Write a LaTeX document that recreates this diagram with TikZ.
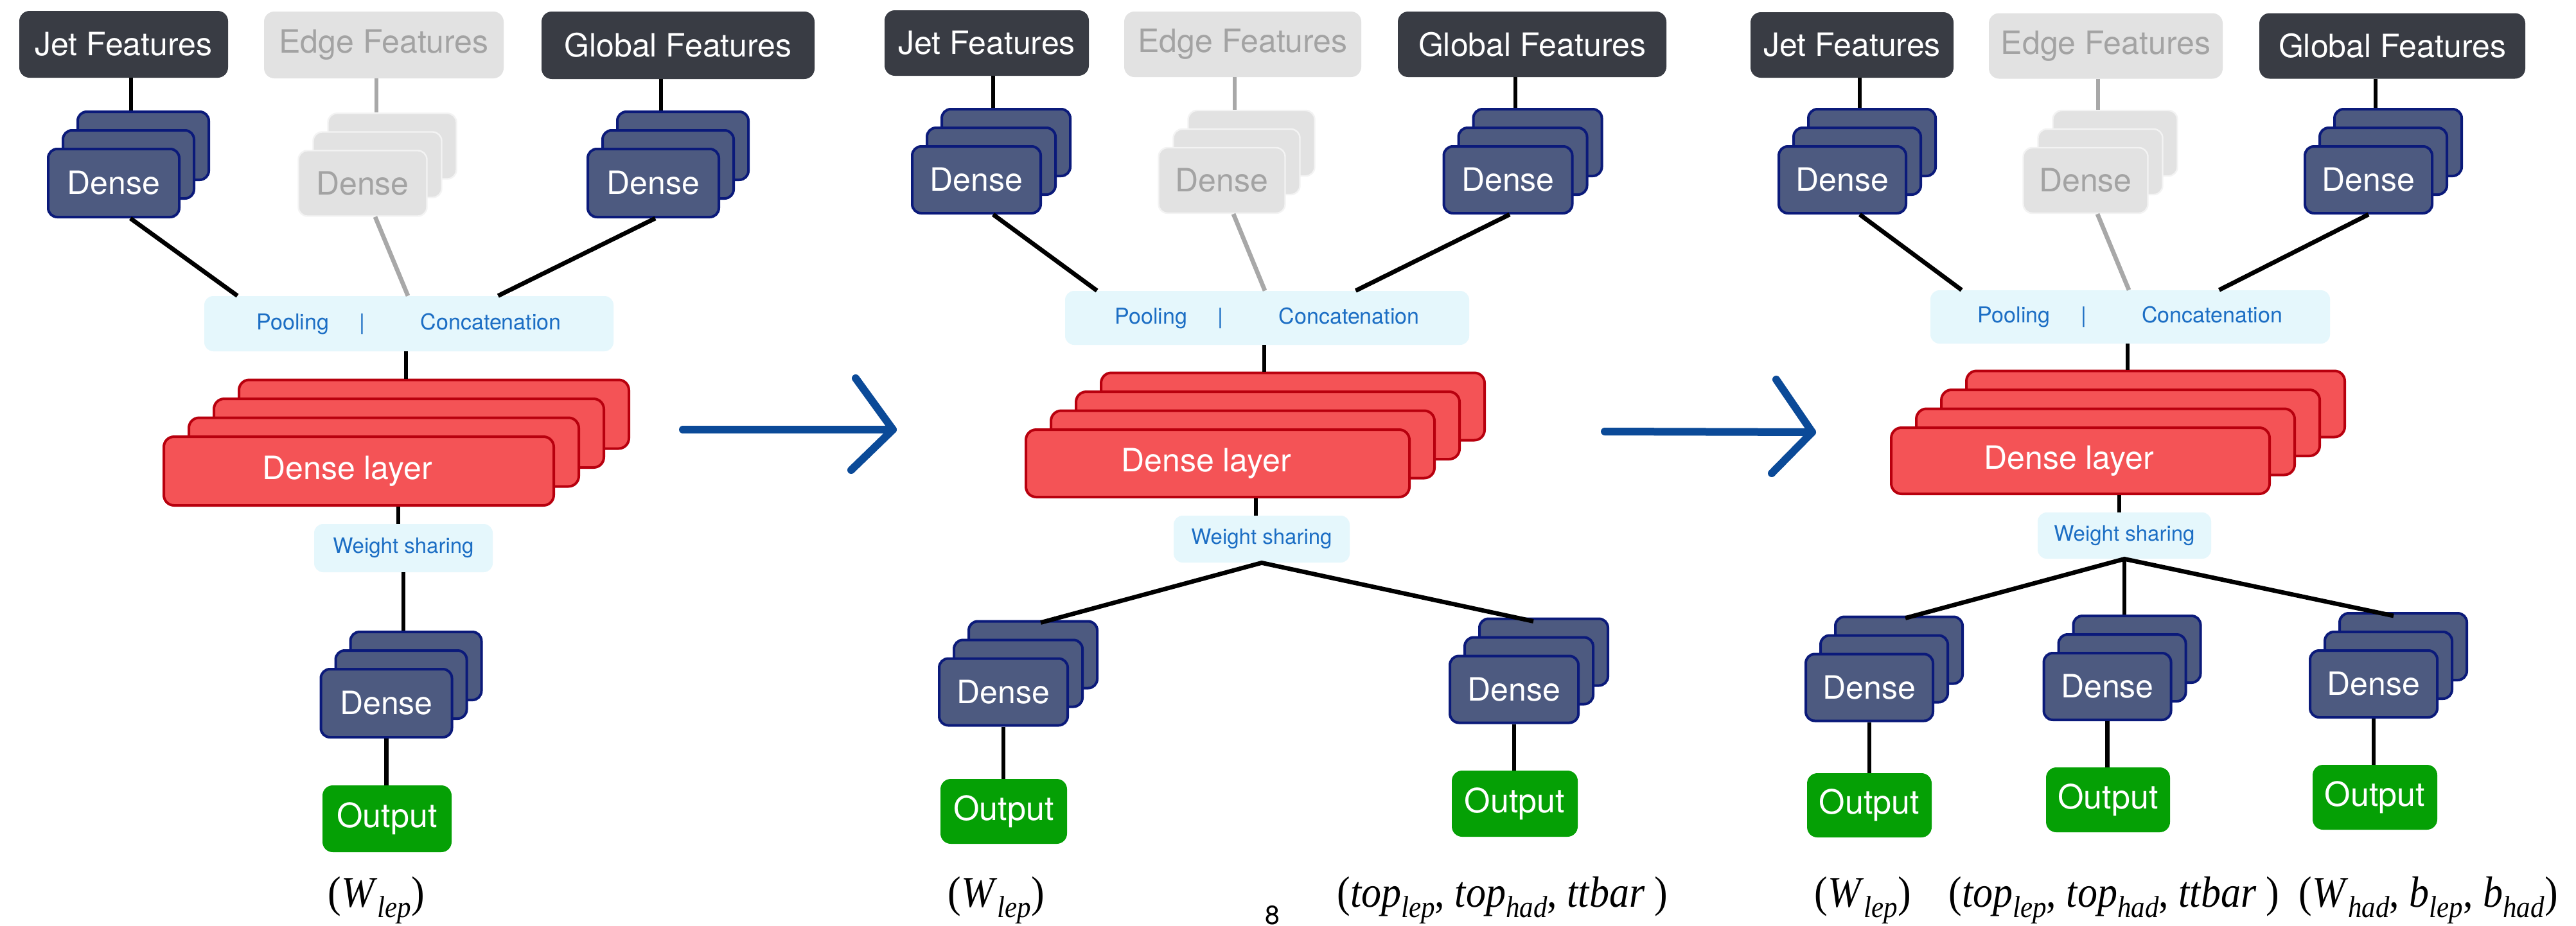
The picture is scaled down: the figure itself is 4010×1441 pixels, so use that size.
\documentclass[tikz,border=0pt]{standalone}
\usepackage{fontspec}
\setmainfont{TeX Gyre Heros}
\newfontfamily\lblfont{Liberation Serif}
\usetikzlibrary{calc}
\definecolor{featdark}{HTML}{393C44}
\definecolor{featgray}{HTML}{E2E2E2}
\definecolor{grtext}{HTML}{A3A3A3}
\definecolor{densefill}{HTML}{4D5A80}
\definecolor{denseedge}{HTML}{0B1A7A}
\definecolor{redfill}{HTML}{F45356}
\definecolor{rededge}{HTML}{B8000E}
\definecolor{outgreen}{HTML}{05A005}
\definecolor{poolfill}{HTML}{E5F7FC}
\definecolor{pooltext}{HTML}{1C6EC4}
\definecolor{arrowblue}{HTML}{0B4A98}
\definecolor{linegray}{HTML}{A8A8A8}
\newcommand\lsub[1]{\raisebox{-0.24em}{\fontsize{21.5}{24}\selectfont\textit{#1}}}
\newcommand\mkstack[5]{%
  \node[#4] (#1b) at ({#2+46},{#3-58}) {};
  \node[#4] (#1m) at ({#2+23},{#3-29}) {};
  \node[#4] (#1) at (#2,#3) {#5};}
\newcommand\mkred[4]{%
  \node[rbox,#4] (#1d) at ({#2+117},{#3-88.5}) {};
  \node[rbox,#4] (#1c) at ({#2+78},{#3-59}) {};
  \node[rbox,#4] (#1b) at ({#2+39},{#3-29.5}) {};
  \node[rbox,#4] (#1) at (#2,#3) {Dense layer\hspace*{18pt}};}
\tikzset{
  feat/.style={fill=featdark, text=white, rounded corners=8pt, inner sep=0pt,
    font=\fontsize{25}{30}\selectfont, minimum height=51pt},
  featg/.style={feat, fill=featgray, text=grtext},
  dbox/.style={fill=densefill, draw=denseedge, line width=2pt, rounded corners=7pt,
    minimum width=100pt, minimum height=52pt, inner sep=0pt, text=white,
    font=\fontsize{25}{30}\selectfont},
  dboxg/.style={fill=featgray, draw=white!60!featgray, line width=1.2pt, rounded corners=7pt,
    minimum width=98.5pt, minimum height=51pt, inner sep=0pt, text=grtext,
    font=\fontsize{25}{30}\selectfont},
  rbox/.style={fill=redfill, draw=rededge, line width=2pt, rounded corners=8pt,
    inner sep=0pt, text=white, font=\fontsize{25}{30}\selectfont},
  pbox/.style={fill=poolfill, rounded corners=7pt, inner sep=0pt, text=pooltext,
    font=\fontsize{17}{20}\selectfont},
  obox/.style={fill=outgreen, rounded corners=8pt, inner sep=0pt, text=white,
    font=\fontsize{26}{30}\selectfont},
  link/.style={line width=3.4pt, black},
  linkg/.style={line width=3.4pt, linegray},
  lbl/.style={font=\lblfont\fontsize{31}{36}\selectfont, inner sep=0pt, anchor=base},
  bigarrow/.style={line width=6pt, arrowblue, line cap=round, line join=round},
}
\begin{document}
\begin{tikzpicture}[x=0.5pt,y=-0.5pt]
\useasboundingbox[fill=white] (0,0) rectangle (4010,1441);

%================ Panel 1 ================
\node[feat, minimum width=162.5pt, minimum height=52pt] (jf1) at (192.5,69) {Jet Features};
\node[featg, minimum width=186.5pt, minimum height=52pt] (ef1) at (597.5,70) {Edge Features};
\node[feat, minimum width=212.5pt, minimum height=52.5pt] (gf1) at (1055.5,70.5) {Global Features};
\mkstack{jd1}{177}{285}{dbox,minimum width=102pt,minimum height=53pt}{Dense}
\mkstack{ed1}{564.5}{285.5}{dboxg,minimum width=100pt}{Dense}
\mkstack{gd1}{1017}{285}{dbox,minimum width=102pt,minimum height=53pt}{Dense}
\node[pbox, minimum width=318.5pt, minimum height=43pt] (pool1) at (636.5,504)
  {Pooling\hspace*{24pt}|\hspace*{43pt}Concatenation};
\mkred{rl1}{558.5}{733.5}{minimum width=303.5pt,minimum height=53.5pt}
\node[pbox, minimum width=139pt, minimum height=37.5pt, font=\fontsize{16.5}{20}\selectfont] (ws1) at (628,853.5) {Weight sharing};
\mkstack{bd1}{601.5}{1095}{dbox,minimum width=102pt,minimum height=53pt}{Dense}
\node[obox, minimum width=100.5pt, minimum height=52pt] (out1) at (602.5,1275) {Output};

\draw[link] ([xshift=5.75pt]jf1.south) -- ([xshift=5.75pt]jf1.south |- jd1b.north);
\draw[linkg] ([xshift=-5.75pt]ef1.south) -- ([xshift=-5.75pt]ef1.south |- ed1b.north);
\draw[link] ([xshift=-13.25pt]gf1.south) -- ([xshift=-13.25pt]gf1.south |- gd1b.north);
\draw[link] ([xshift=13pt]jd1.south) -- ([xshift=26pt]pool1.north west);
\draw[linkg] ([xshift=9.75pt]ed1.south) -- ([xshift=-0.75pt]pool1.north);
\draw[link] ([xshift=1.5pt]gd1.south) -- ([xshift=-90pt]pool1.north east);
\draw[link] ([xshift=-2.25pt]pool1.south) -- ([xshift=-2.25pt]pool1.south |- rl1d.north);
\draw[link] ([xshift=30.75pt]rl1.south) -- ([xshift=30.75pt]rl1.south |- ws1.north);
\draw[link] (ws1.south) -- (ws1.south |- bd1b.north);
\draw[link] (bd1.south) -- (bd1.south |- out1.north);

\node[lbl] (lab1) at (586,1412) {\scalebox{1}[1.1]{(\textit{W}\lsub{lep})}};

%================ Arrow 1 ================
\coordinate (a1s) at (1063,669);
\coordinate (a1t) at (1390,669);
\coordinate (a1u) at (1332,589);
\coordinate (a1d) at (1325,732);
\draw[bigarrow] (a1s) -- (a1t);
\draw[bigarrow] (a1u) -- (a1t) -- (a1d);

%================ Panel 2 ================
\node[feat, minimum width=159pt] (jf2) at (1536,67) {Jet Features};
\node[featg, minimum width=184.5pt] (ef2) at (1934.5,69) {Edge Features};
\node[feat, minimum width=209pt] (gf2) at (2385,69) {Global Features};
\mkstack{jd2}{1520}{280}{dbox}{Dense}
\mkstack{ed2}{1902}{281}{dboxg}{Dense}
\mkstack{gd2}{2347.5}{280}{dbox}{Dense}
\node[pbox, minimum width=314.5pt, minimum height=42pt] (pool2) at (1972.5,495)
  {Pooling\hspace*{24pt}|\hspace*{43pt}Concatenation};
\mkred{rl2}{1895.5}{721.5}{minimum width=298.5pt,minimum height=52.5pt}
\node[pbox, minimum width=137pt, minimum height=36.5pt, font=\fontsize{16.5}{20}\selectfont] (ws2) at (1964,839.5) {Weight sharing};
\mkstack{ld2}{1562}{1077.5}{dbox}{Dense}
\mkstack{rd2}{2357}{1073.5}{dbox}{Dense}
\node[obox, minimum width=98.5pt, minimum height=50.5pt] (lo2) at (1562.5,1263.5) {Output};
\node[obox, minimum width=98pt, minimum height=51.5pt] (ro2) at (2358,1251.5) {Output};

\draw[link] ([xshift=5pt]jf2.south) -- ([xshift=5pt]jf2.south |- jd2b.north);
\draw[linkg] ([xshift=-6.25pt]ef2.south) -- ([xshift=-6.25pt]ef2.south |- ed2b.north);
\draw[link] ([xshift=-13pt]gf2.south) -- ([xshift=-13pt]gf2.south |- gd2b.north);
\draw[link] ([xshift=13pt]jd2.south) -- ([xshift=25pt]pool2.north west);
\draw[linkg] ([xshift=9pt]ed2.south) -- ([xshift=-1.75pt]pool2.north);
\draw[link] ([xshift=1.25pt]gd2.south) -- ([xshift=-88.5pt]pool2.north east);
\draw[link] ([xshift=-2.25pt]pool2.south) -- ([xshift=-2.25pt]pool2.south |- rl2d.north);
\draw[link] ([xshift=29.75pt]rl2.south) -- ([xshift=29.75pt]rl2.south |- ws2.north);
\draw[link] ([xshift=6pt,yshift=-2pt]ld2b.north) -- (ws2.south) -- ([xshift=-8pt,yshift=-3pt]rd2b.north);
\draw[link] (ld2.south) -- (ld2.south |- lo2.north);
\draw[link] (rd2.south) -- (rd2.south |- ro2.north);

\node[lbl] (lab2a) at (1551,1412) {\scalebox{1}[1.1]{(\textit{W}\lsub{lep})}};
\node[lbl] (lab2b) at (2339,1412) {\scalebox{1}[1.1]{(\textit{top}\lsub{lep}, \textit{top}\lsub{had}, \textit{ttbar} )}};
\node[font=\fontsize{20.5}{24}\selectfont, anchor=north, inner sep=0pt] (pg) at (1981,1410) {8};

%================ Arrow 2 ================
\coordinate (a2s) at (2498,672);
\coordinate (a2t) at (2821,673);
\coordinate (a2u) at (2765,591);
\coordinate (a2d) at (2758,737);
\draw[bigarrow] (a2s) -- (a2t);
\draw[bigarrow] (a2u) -- (a2t) -- (a2d);

%================ Panel 3 ================
\node[feat, minimum width=158pt] (jf3) at (2883,70) {Jet Features};
\node[featg, minimum width=182pt] (ef3) at (3278,71.5) {Edge Features};
\node[feat, minimum width=207pt] (gf3) at (3724,71.5) {Global Features};
\mkstack{jd3}{2868}{280}{dbox,minimum width=99pt}{Dense}
\mkstack{ed3}{3246.5}{281}{dboxg,minimum width=97pt}{Dense}
\mkstack{gd3}{3687}{280}{dbox,minimum width=99pt}{Dense}
\node[pbox, minimum width=311pt, minimum height=41.5pt] (pool3) at (3316,493.5)
  {Pooling\hspace*{24pt}|\hspace*{43pt}Concatenation};
\mkred{rl3}{3238.5}{717.5}{minimum width=294.5pt,minimum height=51.5pt}
\node[pbox, minimum width=135pt, minimum height=36pt, font=\fontsize{16.5}{20}\selectfont] (ws3) at (3307,834) {Weight sharing};
\mkstack{ld3}{2910}{1070.5}{dbox,minimum width=99pt}{Dense}
\mkstack{md3}{3280.5}{1069}{dbox,minimum width=99pt}{Dense}
\mkstack{rd3}{3695}{1065}{dbox,minimum width=99pt}{Dense}
\node[obox, minimum width=97pt, minimum height=50pt] (lo3) at (2910,1254) {Output};
\node[obox, minimum width=96.5pt, minimum height=50.5pt] (mo3) at (3281.5,1245.5) {Output};
\node[obox, minimum width=97pt, minimum height=50.5pt] (ro3) at (3697,1241.5) {Output};

\draw[link] ([xshift=6pt]jf3.south) -- ([xshift=6pt]jf3.south |- jd3b.north);
\draw[linkg] ([xshift=-6pt]ef3.south) -- ([xshift=-6pt]ef3.south |- ed3b.north);
\draw[link] ([xshift=-13pt]gf3.south) -- ([xshift=-13pt]gf3.south |- gd3b.north);
\draw[link] ([xshift=13.5pt]jd3.south) -- ([xshift=24.5pt]pool3.north west);
\draw[linkg] ([xshift=9.25pt]ed3.south) -- ([xshift=-1pt]pool3.north);
\draw[link] (gd3.south) -- ([xshift=-86.5pt]pool3.north east);
\draw[link] ([xshift=-2pt]pool3.south) -- ([xshift=-2pt]pool3.south |- rl3d.north);
\draw[link] ([xshift=30.25pt]rl3.south) -- ([xshift=30.25pt]rl3.south |- ws3.north);
\draw[link] ([xshift=5pt,yshift=-2pt]ld3b.north) -- (ws3.south) -- ([xshift=-7.5pt,yshift=-3pt]rd3b.north);
\draw[link] (ws3.south) -- (ws3.south |- md3b.north);
\draw[link] (ld3.south) -- (ld3.south |- lo3.north);
\draw[link] (md3.south) -- (md3.south |- mo3.north);
\draw[link] (rd3.south) -- (rd3.south |- ro3.north);

\node[lbl] (lab3a) at (2900,1412) {\scalebox{1}[1.1]{(\textit{W}\lsub{lep})}};
\node[lbl] (lab3b) at (3291,1412) {\scalebox{1}[1.1]{(\textit{top}\lsub{lep}, \textit{top}\lsub{had}, \textit{ttbar} )}};
\node[lbl] (lab3c) at (3780,1412) {\scalebox{1}[1.1]{(\textit{W}\lsub{had}, \textit{b}\lsub{lep}, \textit{b}\lsub{had})}};
\end{tikzpicture}
\end{document}
